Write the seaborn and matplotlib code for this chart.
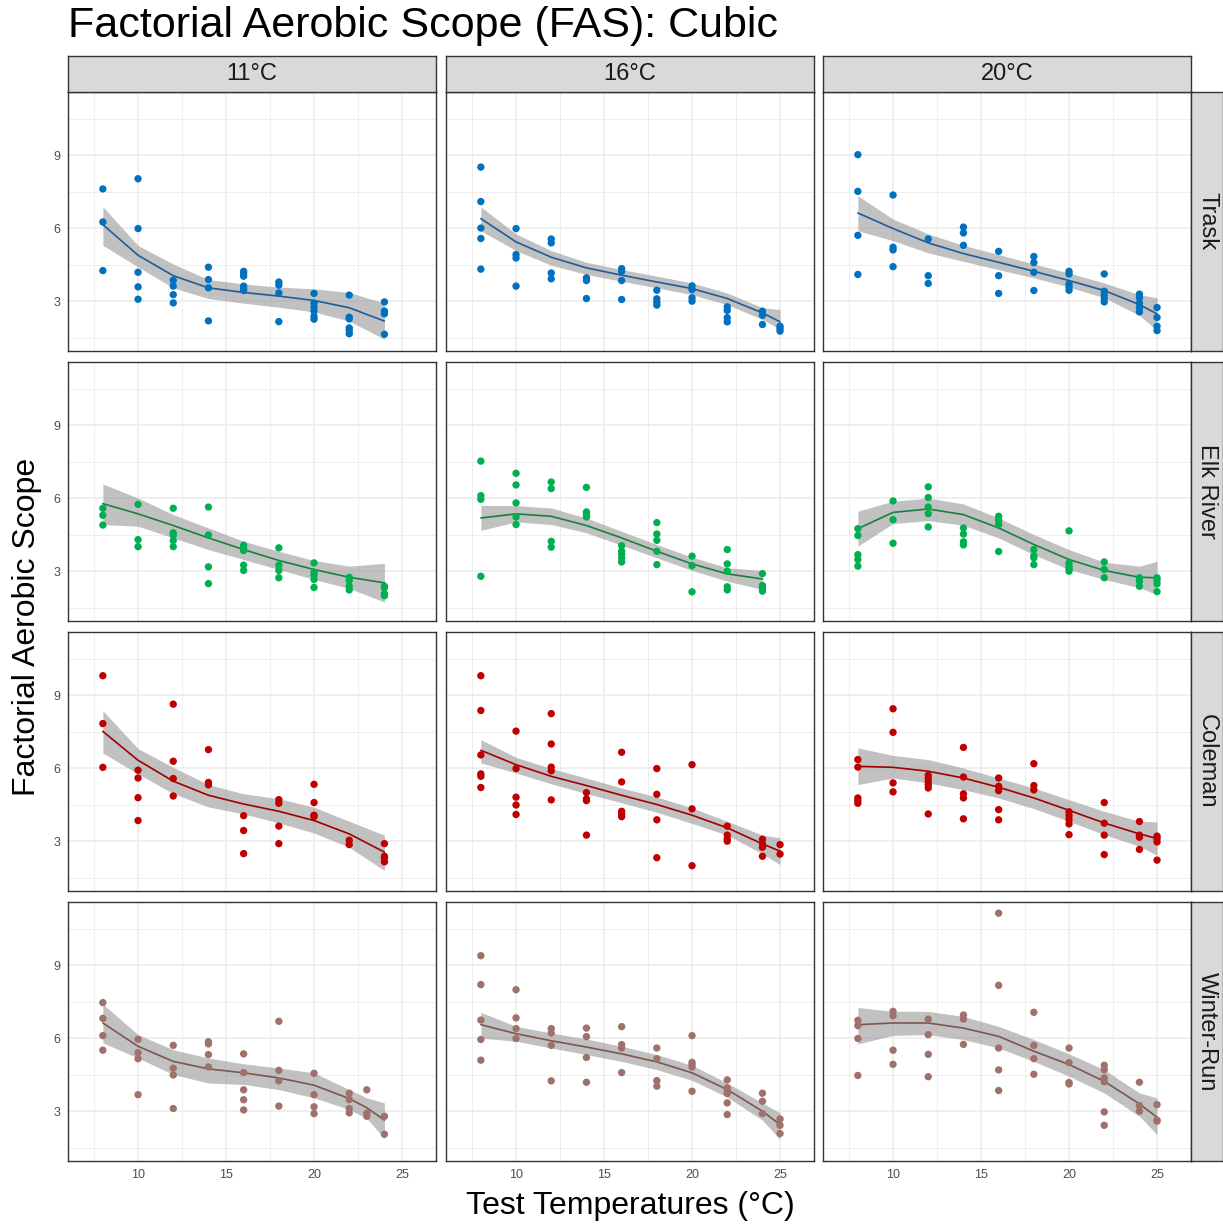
import numpy as np
import pandas as pd
import matplotlib
matplotlib.use("Agg")
import matplotlib.pyplot as plt
from matplotlib.ticker import FixedLocator
import seaborn as sns

sns.set_theme(style="white")
plt.rcParams["font.family"] = ["Liberation Sans", "DejaVu Sans"]

# ---------------- data ----------------
acclimations = ["11°C", "16°C", "20°C"]
populations = ["Trask", "Elk River", "Coleman", "Winter-Run"]

point_colors = ["#0070C0", "#00B050", "#C00000", "#A0706A"]
line_colors = ["#1F5C99", "#1A8040", "#A00000", "#7B5750"]

# observed FAS values, keyed by test temperature
trask_11 = {8: [7.62, 6.26, 4.26], 10: [8.04, 5.99, 4.19, 3.59, 3.08],
            12: [3.86, 3.62, 3.27, 2.93], 14: [4.40, 3.89, 3.55, 2.19],
            16: [4.23, 4.14, 4.03, 3.62, 3.52, 3.44], 18: [3.79, 3.66, 3.34, 2.16],
            20: [3.32, 2.92, 2.75, 2.59, 2.38, 2.26], 22: [3.25, 2.34, 2.27, 1.90, 1.79, 1.66],
            24: [2.97, 2.59, 2.48, 1.64]}
trask_16 = {8: [8.52, 7.10, 6.01, 5.58, 4.32], 10: [5.99, 4.92, 4.78, 3.62],
            12: [5.56, 5.40, 4.16, 3.92], 14: [3.96, 3.85, 3.11],
            16: [4.34, 4.23, 3.85, 3.07], 18: [3.45, 3.10, 2.96, 2.84],
            20: [3.63, 3.48, 3.14, 3.00], 22: [2.77, 2.62, 2.32, 2.15],
            24: [2.59, 2.42, 2.04], 25: [1.97, 1.88, 1.77]}
trask_20 = {8: [9.03, 7.52, 5.71, 4.10], 10: [7.37, 5.22, 5.11, 4.42],
            12: [5.56, 4.05, 3.73], 14: [6.05, 5.81, 5.30],
            16: [5.05, 4.05, 3.32], 18: [4.84, 4.59, 4.19, 3.44],
            20: [4.23, 4.12, 3.71, 3.58, 3.45], 22: [4.12, 3.41, 3.27, 3.11, 2.97],
            24: [3.29, 3.14, 2.92, 2.73, 2.56], 25: [2.74, 2.33, 1.97, 1.79]}
elk_11 = {8: [5.59, 5.30, 4.90], 10: [5.75, 4.30, 4.01],
          12: [5.59, 4.58, 4.48, 4.26, 4.01], 14: [5.64, 4.49, 3.18, 2.49],
          16: [4.07, 3.96, 3.85, 3.25, 3.03], 18: [3.96, 3.25, 3.03, 2.73],
          20: [3.34, 2.96, 2.84, 2.66, 2.33], 22: [2.75, 2.62, 2.38, 2.23],
          24: [2.38, 2.32, 2.07, 1.99]}
elk_16 = {8: [7.53, 6.11, 5.96, 2.79], 10: [7.03, 6.55, 5.81, 5.23, 4.92],
          12: [6.67, 6.40, 4.23, 3.99], 14: [6.45, 5.44, 5.33, 5.23],
          16: [4.05, 3.82, 3.71, 3.55, 3.38], 18: [5.00, 4.53, 4.27, 3.82, 3.27],
          20: [3.62, 3.23, 2.15], 22: [3.89, 3.30, 3.00, 2.36, 2.23],
          24: [2.90, 2.41, 2.29, 2.18]}
elk_20 = {8: [4.75, 4.47, 3.68, 3.48, 3.21], 10: [5.89, 5.12, 4.15],
          12: [6.47, 6.03, 5.64, 5.37, 4.82], 14: [4.78, 4.53, 4.21, 4.08],
          16: [5.26, 5.10, 4.92, 3.81], 18: [3.89, 3.64, 3.55, 3.27],
          20: [4.66, 3.34, 3.21, 3.11, 3.00], 22: [3.38, 3.07, 2.73],
          24: [2.73, 2.59, 2.38], 25: [2.73, 2.63, 2.48, 2.16]}
coleman_11 = {8: [9.81, 7.84, 6.04], 10: [5.92, 5.60, 4.79, 3.85],
              12: [8.64, 6.29, 5.58, 4.86], 14: [6.77, 5.42, 5.32],
              16: [4.05, 3.44, 2.49], 18: [4.71, 4.56, 3.62, 2.90],
              20: [5.34, 4.59, 4.07, 4.01], 22: [3.04, 2.86],
              24: [2.90, 2.38, 2.32, 2.15]}
coleman_16 = {8: [9.81, 8.38, 6.55, 5.77, 5.67, 5.21], 10: [7.53, 5.99, 4.81, 4.49, 4.10],
              12: [8.25, 7.00, 6.05, 5.90, 4.70], 14: [5.00, 4.74, 4.67, 3.25],
              16: [6.66, 5.44, 4.23, 4.12, 4.01], 18: [5.99, 4.93, 3.88, 2.32],
              20: [6.15, 4.33, 1.99], 22: [3.62, 3.25, 3.10, 3.00],
              24: [3.08, 2.90, 2.75, 2.38], 25: [2.86, 2.47]}
coleman_20 = {8: [6.36, 6.05, 4.78, 4.67, 4.56], 10: [8.45, 7.48, 5.40, 5.03],
              12: [5.71, 5.58, 5.44, 5.32, 5.19, 4.12], 14: [6.86, 5.64, 4.95, 4.78, 3.92],
              16: [5.60, 5.26, 5.08, 4.30, 3.88], 18: [6.19, 5.29, 5.11],
              20: [4.21, 4.05, 3.89, 3.71, 3.27], 22: [4.59, 3.74, 3.25, 2.45],
              24: [3.81, 3.25, 3.16, 2.66], 25: [3.21, 3.11, 2.97, 2.22]}
winter_11 = {8: [7.47, 6.82, 6.11, 5.51], 10: [5.96, 5.41, 5.16, 3.68],
             12: [5.71, 4.77, 4.49, 3.11], 14: [5.86, 5.77, 5.33, 4.82],
             16: [5.36, 4.59, 3.88, 3.47, 3.05], 18: [6.70, 4.68, 4.25, 3.21],
             20: [4.56, 3.68, 3.18, 2.90], 22: [3.74, 3.48, 3.11, 2.93],
             23: [3.88, 2.92, 2.79], 24: [2.79, 2.05]}
winter_16 = {8: [9.40, 8.21, 6.75, 5.95, 5.10], 10: [8.00, 6.84, 6.40, 5.99],
             12: [6.40, 6.22, 5.71, 4.25], 14: [6.42, 6.07, 5.21, 4.19],
             16: [6.48, 5.74, 5.60, 4.59], 18: [5.60, 5.16, 4.26, 4.03],
             20: [6.11, 5.01, 4.92, 4.82, 3.82], 22: [4.29, 3.96, 3.85, 3.73, 3.34, 2.86],
             24: [3.74, 3.41, 2.90], 25: [2.68, 2.42, 2.08]}
winter_20 = {8: [6.74, 6.52, 5.99, 4.47], 10: [7.11, 6.93, 5.51, 4.93],
             12: [6.79, 6.15, 5.34, 4.42], 14: [6.96, 6.79, 5.75],
             16: [11.15, 8.18, 5.60, 4.70, 3.85], 18: [7.07, 5.71, 5.16, 4.52],
             20: [5.60, 5.00, 4.18, 4.12], 22: [4.89, 4.71, 4.37, 4.21, 2.97, 2.42],
             24: [4.19, 3.23, 3.00], 25: [3.27, 2.63, 2.59]}

# cubic-model predictions (fit, lower, upper) at each test temperature, per acclimation
fit_trask = [[6.15, 4.89, 4.05, 3.55, 3.36, 3.21, 3.03, 2.73, 2.18],
             [6.40, 5.44, 4.81, 4.37, 4.07, 3.79, 3.52, 3.11, 2.52, 2.15],
             [6.63, 5.99, 5.40, 4.96, 4.60, 4.23, 3.85, 3.44, 2.86, 2.48]]
lo_trask = [[5.30, 4.41, 3.55, 3.11, 2.92, 2.75, 2.56, 2.18, 1.44],
            [5.90, 5.08, 4.48, 4.10, 3.82, 3.55, 3.27, 2.86, 2.25, 1.84],
            [5.90, 5.49, 4.99, 4.64, 4.30, 3.96, 3.58, 3.14, 2.42, 1.79]]
hi_trask = [[6.89, 5.29, 4.53, 3.89, 3.71, 3.58, 3.51, 3.36, 2.92],
            [6.88, 5.77, 5.08, 4.60, 4.30, 4.03, 3.75, 3.34, 2.73, 2.66],
            [7.34, 6.38, 5.77, 5.30, 4.92, 4.53, 4.16, 3.75, 3.27, 3.14]]
fit_elk = [[5.78, 5.36, 4.88, 4.37, 3.89, 3.44, 3.07, 2.75, 2.52],
           [5.19, 5.36, 5.26, 4.88, 4.37, 3.82, 3.30, 2.89, 2.68],
           [4.75, 5.42, 5.56, 5.33, 4.78, 4.10, 3.48, 3.03, 2.75, 2.73]]
lo_elk = [[4.92, 4.85, 4.37, 3.89, 3.48, 3.07, 2.66, 2.29, 1.73],
          [4.68, 5.03, 4.92, 4.58, 4.07, 3.55, 3.03, 2.59, 2.25],
          [4.03, 4.96, 5.08, 4.89, 4.37, 3.68, 3.07, 2.66, 2.32, 2.04]]
hi_elk = [[6.59, 6.01, 5.33, 4.78, 4.23, 3.82, 3.44, 3.21, 3.32],
          [5.71, 5.70, 5.60, 5.19, 4.64, 4.10, 3.58, 3.14, 3.03],
          [5.47, 5.88, 6.01, 5.77, 5.19, 4.51, 3.89, 3.37, 3.21, 3.41]]
fit_coleman = [[7.52, 6.33, 5.47, 4.89, 4.53, 4.23, 3.85, 3.30, 2.55],
               [6.74, 6.15, 5.67, 5.29, 4.89, 4.51, 4.07, 3.55, 2.89, 2.59],
               [6.08, 6.04, 5.88, 5.60, 5.22, 4.78, 4.27, 3.75, 3.30, 3.11]]
lo_coleman = [[6.63, 5.77, 4.96, 4.41, 4.12, 3.75, 3.34, 2.75, 1.79],
              [6.22, 5.81, 5.36, 4.96, 4.58, 4.19, 3.73, 3.25, 2.48, 2.04],
              [5.33, 5.60, 5.40, 5.12, 4.78, 4.34, 3.82, 3.27, 2.79, 2.42]]
hi_coleman = [[8.37, 6.81, 6.04, 5.33, 4.95, 4.75, 4.40, 3.82, 3.25],
              [7.18, 6.45, 5.99, 5.60, 5.19, 4.82, 4.37, 3.82, 3.25, 3.14],
              [6.84, 6.53, 6.36, 6.01, 5.60, 5.19, 4.71, 4.23, 3.82, 3.79]]
fit_winter = [[6.63, 5.67, 5.05, 4.74, 4.58, 4.37, 4.07, 3.52, 3.14, 2.63],
              [6.56, 6.19, 5.90, 5.64, 5.36, 5.03, 4.58, 3.89, 3.00, 2.45],
              [6.56, 6.63, 6.63, 6.42, 6.08, 5.47, 4.92, 4.23, 3.30, 2.75]]
lo_winter = [[5.81, 5.19, 4.51, 4.16, 4.10, 3.89, 3.55, 3.07, 2.70, 1.88],
             [6.01, 5.88, 5.60, 5.33, 5.05, 4.71, 4.27, 3.58, 2.63, 1.84],
             [5.77, 6.12, 6.15, 5.95, 5.60, 5.05, 4.44, 3.75, 2.79, 2.04]]
hi_winter = [[7.41, 6.15, 5.53, 5.19, 4.95, 4.78, 4.58, 3.89, 3.55, 3.34],
             [7.07, 6.49, 6.22, 5.97, 5.67, 5.33, 4.89, 4.16, 3.34, 2.93],
             [7.27, 7.11, 7.11, 6.90, 6.49, 5.95, 5.36, 4.71, 3.75, 3.55]]

panels = [[trask_11, trask_16, trask_20],
          [elk_11, elk_16, elk_20],
          [coleman_11, coleman_16, coleman_20],
          [winter_11, winter_16, winter_20]]
fits = [fit_trask, fit_elk, fit_coleman, fit_winter]
lows = [lo_trask, lo_elk, lo_coleman, lo_winter]
highs = [hi_trask, hi_elk, hi_coleman, hi_winter]

rows = []
for i, pop in enumerate(populations):
    for j, acc in enumerate(acclimations):
        for t, vals in panels[i][j].items():
            for v in vals:
                rows.append((pop, acc, t, v))
df = pd.DataFrame(rows, columns=["population", "acclimation", "temp", "fas"])

pred_rows = []
for i, pop in enumerate(populations):
    for j, acc in enumerate(acclimations):
        temps = list(panels[i][j].keys())
        for k, t in enumerate(temps):
            pred_rows.append((pop, acc, t, fits[i][j][k], lows[i][j][k], highs[i][j][k]))
pred = pd.DataFrame(pred_rows, columns=["population", "acclimation", "temp", "fit", "lo", "hi"])

# ---------------- layout ----------------
W, H = 1223, 1224
fig = plt.figure(figsize=(W / 100, H / 100), dpi=100)
fig.patch.set_facecolor("white")

col_left = [68, 446, 823]
pw = 368
row_top = [92, 362, 632, 902]
ph = 259


def fx(px):
    return px / W


def fy(py):
    return 1 - py / H


border = "#333333"
for i, pop in enumerate(populations):
    for j, acc in enumerate(acclimations):
        ax = fig.add_axes([fx(col_left[j]), fy(row_top[i] + ph), pw / W, ph / H])
        sub = df[(df.population == pop) & (df.acclimation == acc)]
        p = pred[(pred.population == pop) & (pred.acclimation == acc)]
        ax.fill_between(p.temp, p.lo, p.hi, color="#999999", alpha=0.6, lw=0, zorder=2)
        sns.lineplot(data=p, x="temp", y="fit", color=line_colors[i], lw=1.2, ax=ax, zorder=3)
        sns.scatterplot(data=sub, x="temp", y="fas", color=point_colors[i], s=28,
                        edgecolor="none", linewidth=0, ax=ax, zorder=4)
        ax.set_xlim(6.02, 26.93)
        ax.set_ylim(0.95, 11.61)
        ax.xaxis.set_major_locator(FixedLocator([10, 15, 20, 25]))
        ax.xaxis.set_minor_locator(FixedLocator([7.5, 12.5, 17.5, 22.5]))
        ax.yaxis.set_major_locator(FixedLocator([3, 6, 9]))
        ax.yaxis.set_minor_locator(FixedLocator([1.5, 4.5, 7.5, 10.5]))
        ax.grid(which="major", color="#EBEBEB", lw=1.1, zorder=0)
        ax.grid(which="minor", color="#EBEBEB", lw=0.6, zorder=0)
        ax.set_axisbelow(True)
        ax.set_facecolor("white")
        for s in ax.spines.values():
            s.set_color(border)
            s.set_linewidth(1.0)
        ax.set_xlabel("")
        ax.set_ylabel("")
        ax.tick_params(which="minor", length=0)
        ax.tick_params(which="major", length=3.5, width=0.8, color=border,
                       labelsize=9, labelcolor="#4D4D4D", pad=2)
        if j != 0:
            ax.tick_params(axis="y", which="major", length=0, labelleft=False)
        if i != 3:
            ax.tick_params(axis="x", which="major", length=0, labelbottom=False)

# column strips
for j, acc in enumerate(acclimations):
    sax = fig.add_axes([fx(col_left[j]), fy(92), pw / W, 36 / H])
    sax.set_facecolor("#D9D9D9")
    sax.set_xticks([]); sax.set_yticks([])
    for s in sax.spines.values():
        s.set_color(border); s.set_linewidth(1.0)
    sax.text(0.5, 0.5, acc, ha="center", va="center", fontsize=17, color="#1A1A1A",
             transform=sax.transAxes)

# row strips
for i, pop in enumerate(populations):
    sax = fig.add_axes([fx(1191), fy(row_top[i] + ph), 32 / W, ph / H])
    sax.set_facecolor("#D9D9D9")
    sax.set_xticks([]); sax.set_yticks([])
    for s in sax.spines.values():
        s.set_color(border); s.set_linewidth(1.0)
    sax.text(0.5, 0.5, pop, ha="center", va="center", fontsize=17, color="#1A1A1A",
             rotation=-90, transform=sax.transAxes)

fig.text(fx(68), fy(6), "Factorial Aerobic Scope (FAS): Cubic", ha="left", va="top",
         fontsize=31, color="black")
fig.text(fx(630), fy(1221), "Test Temperatures (°C)", ha="center", va="bottom",
         fontsize=23, color="black")
fig.text(fx(12), fy(627), "Factorial Aerobic Scope", ha="left", va="center",
         rotation=90, fontsize=23, color="black")

fig.savefig("out.png", dpi=100)
